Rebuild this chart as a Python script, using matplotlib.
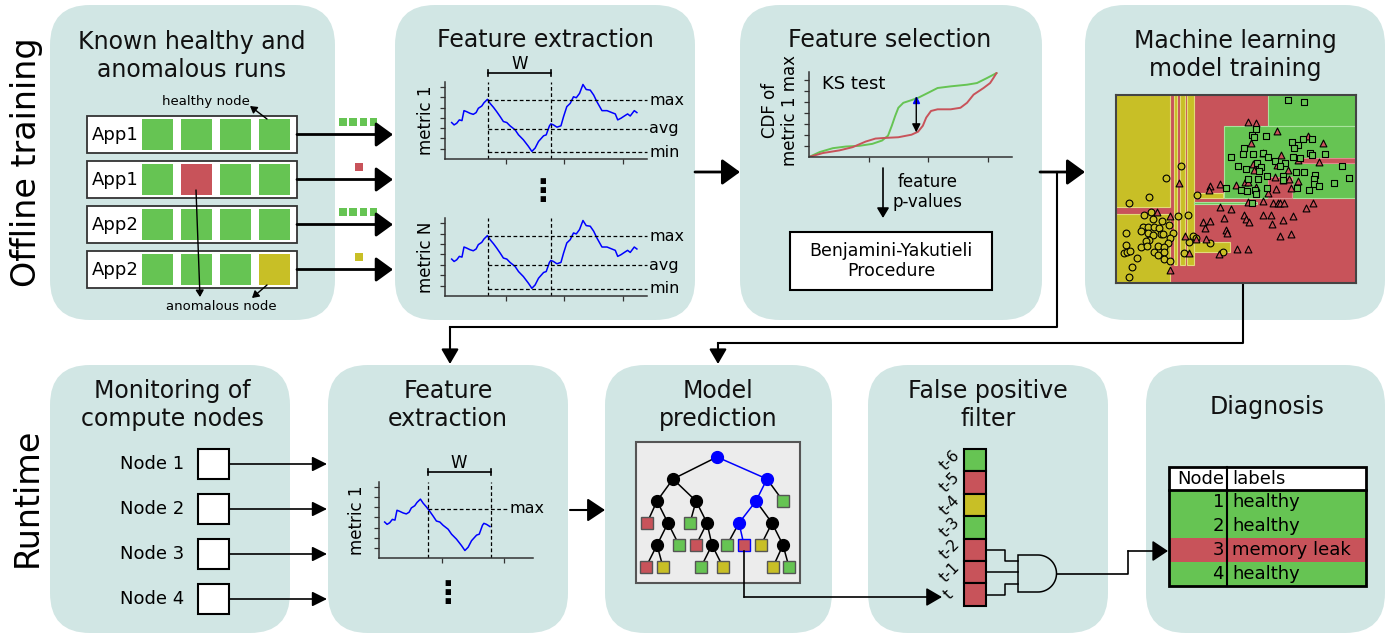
import numpy as np
import matplotlib.pyplot as plt
from matplotlib.patches import FancyBboxPatch, Rectangle, Polygon

W, H = 1389, 637

GREEN = '#66c453'
RED = '#c8535a'
YELLOW = '#c8bf26'
PANEL = '#d1e6e4'
COLORS = {'g': GREEN, 'r': RED, 'y': YELLOW}

# --- data ---
app_names = ['App1', 'App1', 'App2', 'App2']
app_nodes = [['g', 'g', 'g', 'g'], ['g', 'r', 'g', 'g'], ['g', 'g', 'g', 'g'], ['g', 'g', 'g', 'y']]
app_summary = [['g', 'g', 'g', 'g'], ['r'], ['g', 'g', 'g', 'g'], ['y']]

# metric time series (time step, value)
metric_t = [3.3, 4.5, 5.8, 7.1, 8.4, 9.4, 10.7, 12.4, 14.0, 15.4, 16.5, 18.2, 19.3, 21.0,
            22.3, 24.0, 25.6, 27.3, 28.9, 30.6, 32.2, 34.7, 36.4, 38.8, 41.3, 43.0, 44.6,
            46.3, 48.8, 50.1, 51.7, 52.4, 53.7, 55.4, 57.4, 58.7, 60.3, 62.0, 63.6, 65.0,
            66.6, 68.3, 69.9, 71.9, 73.6, 75.2, 77.7, 80.2, 82.6, 84.3, 85.5, 87.1, 88.8,
            90.4, 91.7, 93.7, 95.0]
metric_v = [3.55, 3.32, 3.48, 3.81, 3.74, 4.71, 4.61, 4.45, 4.35, 4.52, 4.94, 5.16, 5.48, 5.81,
            5.42, 5.03, 4.61, 4.13, 3.65, 3.55, 3.23, 2.84, 2.35, 1.87, 1.23, 0.74, 1.06,
            1.71, 2.26, 2.35, 3.23, 3.42, 3.32, 3.10, 3.23, 4.13, 5.10, 5.42, 6.06, 5.97,
            6.39, 7.26, 6.77, 6.71, 6.23, 5.58, 4.71, 4.71, 4.52, 4.39, 3.81, 3.97, 4.19,
            4.39, 4.19, 4.71, 4.52]
window = (21.5, 52.6)
stats = {'max': 5.74, 'avg': 2.97, 'min': 0.68}
rt_window = (24.8, 56.0)
rt_max = 4.85

# CDF curves for the KS test
cdf_x_green = [0, 0.54, 1.2, 1.86, 2.52, 3.18, 3.67, 3.97, 4.16, 4.33, 4.49, 4.74, 5.15, 5.48,
               5.97, 6.46, 7.12, 7.94, 8.44, 8.93, 9.42]
cdf_y_green = [0, 0.45, 0.80, 0.95, 1.01, 1.19, 1.49, 1.93, 2.83, 3.72, 4.46, 4.91, 5.15, 5.36,
               5.8, 6.25, 6.4, 6.55, 6.7, 7.14, 7.6]
cdf_x_red = [0, 0.7, 1.53, 2.19, 2.85, 3.34, 3.83, 4.49, 5.15, 5.48, 5.72, 5.89, 6.13, 6.46,
             7.12, 7.61, 7.94, 8.27, 8.77, 9.1, 9.26, 9.42]
cdf_y_red = [0, 0.36, 0.6, 0.89, 1.4, 1.67, 1.73, 1.79, 2.02, 2.29, 2.83, 3.57, 4.17, 4.32,
             4.32, 4.46, 4.91, 5.65, 6.25, 6.7, 7.14, 7.6]
ks_x, ks_lo, ks_hi = 5.39, 2.23, 5.36

# classifier scatter (feature space units)
circ_x = [243, 198, 148, 88, 290, 153, 132, 158, 186, 208, 233, 265, 130, 145, 163, 176, 124, 78,
          144, 160, 183, 190, 218, 209, 148, 138, 203, 78, 122, 142, 173, 191, 268, 280, 287, 329,
          72, 82, 89, 110, 162, 175, 192, 191, 210, 252, 95, 88, 368]
circ_y = [228, 265, 320, 338, 316, 365, 375, 388, 393, 406, 378, 374, 410, 411, 411, 413, 422, 430,
          430, 436, 433, 433, 430, 443, 448, 452, 457, 464, 469, 468, 466, 470, 456, 438, 443, 458,
          487, 484, 481, 503, 486, 494, 486, 506, 512, 488, 530, 561, 485]
tri_x = [443, 467, 531, 453, 489, 624, 669, 543, 593, 657, 460, 530, 461, 563, 524, 548, 568, 436,
         445, 594, 236, 330, 328, 361, 408, 467, 529, 573, 505, 444, 490, 520, 533, 540, 551, 640,
         618, 361, 393, 371, 310, 330, 432, 438, 446, 489, 512, 550, 517, 580, 377, 382, 316, 256,
         318, 541, 573, 412, 443, 358, 267, 209, 172, 210, 287]
tri_y = [98, 101, 123, 158, 188, 138, 159, 196, 210, 217, 222, 226, 240, 240, 262, 270, 266, 275,
         275, 273, 279, 288, 299, 283, 284, 292, 298, 293, 310, 335, 333, 340, 340, 340, 340, 338,
         355, 352, 357, 384, 396, 394, 375, 386, 397, 375, 375, 390, 403, 379, 420, 428, 414, 438,
         447, 438, 433, 476, 476, 490, 488, 538, 366, 378, 447]
sq_x = [564, 611, 468, 455, 499, 463, 608, 637, 576, 594, 432, 582, 429, 460, 490, 505, 394, 629,
        676, 637, 580, 554, 470, 483, 413, 437, 477, 524, 541, 587, 613, 645, 500, 548, 474, 443,
        726, 747, 642, 641, 656, 701, 378, 500, 423, 442, 466, 468, 591, 628, 548, 600, 456]
sq_y = [32, 38, 118, 137, 138, 143, 147, 147, 157, 165, 174, 175, 192, 192, 188, 200, 202, 190,
        192, 195, 200, 220, 218, 230, 228, 238, 243, 214, 229, 247, 246, 256, 258, 258, 266, 266,
        228, 263, 266, 283, 287, 279, 293, 293, 301, 302, 300, 311, 293, 300, 269, 205, 338]
# decision regions: (x0, x1, y0, y1, class)
regions = [(48, 210, 16, 350, 'y'), (48, 210, 372, 578, 'y'), (222, 232, 16, 525, 'y'),
           (240, 255, 16, 525, 'y'), (262, 283, 16, 525, 'y'), (283, 370, 308, 325, 'y'),
           (283, 390, 455, 485, 'y'), (505, 768, 16, 110, 'g'), (372, 768, 110, 325, 'g'),
           (283, 470, 335, 342, 'g'), (505, 575, 262, 325, 'r'), (598, 768, 205, 218, 'r')]

node_names = ['Node 1', 'Node 2', 'Node 3', 'Node 4']

# decision tree: (x, depth-y, kind, parent)
tree = [(717, 457, 'b', None), (673, 479, 'n', 0), (767, 479, 'b', 0), (657, 501, 'n', 1),
        (696, 501, 'n', 1), (756, 501, 'b', 2), (783, 501, 'g', 2), (647, 523, 'r', 3),
        (668, 523, 'n', 3), (690, 523, 'g', 4), (707, 523, 'n', 4), (739, 523, 'b', 5),
        (772, 523, 'n', 5), (657, 545, 'n', 8), (679, 545, 'g', 8), (696, 545, 'r', 10),
        (712, 545, 'n', 10), (727, 545, 'g', 11), (744, 545, 'R', 11), (761, 545, 'y', 12),
        (783, 545, 'n', 12), (646, 567, 'r', 13), (663, 567, 'y', 13), (701, 567, 'g', 16),
        (723, 567, 'y', 16), (773, 567, 'y', 20), (789, 567, 'g', 20)]

filter_labels = ['t-6', 't-5', 't-4', 't-3', 't-2', 't-1', 't']
filter_states = ['g', 'r', 'y', 'g', 'r', 'r', 'r']

diag_nodes = [1, 2, 3, 4]
diag_labels = ['healthy', 'healthy', 'memory leak', 'healthy']
diag_states = ['g', 'g', 'r', 'g']

# --- figure ---
fig = plt.figure(figsize=(W / 100, H / 100), dpi=100)
ax = fig.add_axes([0, 0, 1, 1])
ax.set_xlim(0, W)
ax.set_ylim(H, 0)
ax.axis('off')


def px_axes(x0, y0, x1, y1):
    a = fig.add_axes([x0 / W, 1 - y1 / H, (x1 - x0) / W, (y1 - y0) / H])
    a.patch.set_alpha(0)
    return a


def arrow(pts, lw=1.5, hl=0.5, hw=0.3, ms=20, color='black', z=5):
    if len(pts) > 2:
        xs, ys = zip(*pts[:-1])
        ax.plot(xs, ys, color=color, lw=lw, zorder=z)
    ax.annotate('', xy=pts[-1], xytext=pts[-2], zorder=z,
                arrowprops=dict(arrowstyle=f'-|>,head_length={hl},head_width={hw}',
                                color=color, lw=lw, mutation_scale=ms, shrinkA=0, shrinkB=0))


def mini_axes(a, xlim, ylim, xticks, yticks):
    a.set_xlim(*xlim)
    a.set_ylim(*ylim)
    a.set_xticks(xticks)
    a.set_yticks(yticks)
    a.tick_params(length=3.5, width=0.9, color='#333333', labelbottom=False, labelleft=False)
    for s in ['top', 'right']:
        a.spines[s].set_visible(False)
    for s in ['left', 'bottom']:
        a.spines[s].set_color('#333333')
        a.spines[s].set_linewidth(1.1)


# panels
panels = [(50, 5, 335, 320), (395, 5, 695, 320), (740, 5, 1042, 320), (1085, 5, 1385, 320),
          (50, 365, 290, 633), (328, 365, 568, 633), (605, 365, 832, 633),
          (868, 365, 1108, 633), (1146, 365, 1385, 633)]
for x0, y0, x1, y1 in panels:
    ax.add_patch(FancyBboxPatch((x0, y0), x1 - x0, y1 - y0,
                                boxstyle='round,pad=0,rounding_size=40',
                                fc=PANEL, ec='none', zorder=0))

titles = [(192, 56, 'Known healthy and\nanomalous runs'), (545, 40, 'Feature extraction'),
          (890, 40, 'Feature selection'), (1235, 55, 'Machine learning\nmodel training'),
          (172, 405, 'Monitoring of\ncompute nodes'), (448, 405, 'Feature\nextraction'),
          (718, 405, 'Model\nprediction'), (988, 405, 'False positive\nfilter'),
          (1267, 407, 'Diagnosis')]
for x, y, t in titles:
    ax.text(x, y, t, ha='center', va='center', fontsize=17, color='#111111')

ax.text(27, 162, 'Offline training', rotation=90, ha='center', va='center', fontsize=24)
ax.text(27, 497, 'Runtime', rotation=90, ha='center', va='center', fontsize=24)

# --- panel 1: known runs ---
for i, (name, nodes, summ) in enumerate(zip(app_names, app_nodes, app_summary)):
    top = 116 + i * 45
    ax.add_patch(Rectangle((87, top), 210, 37, fc='white', ec='#333333', lw=1.3, zorder=2))
    ax.text(92, top + 19, name, ha='left', va='center', fontsize=13, zorder=3)
    for j, c in enumerate(nodes):
        ax.add_patch(Rectangle((142 + j * 39, top + 3), 31, 31, fc=COLORS[c], ec='none', zorder=3))
    mid = top + 18.5
    arrow([(297, mid), (393, mid)], lw=2, hl=0.55, hw=0.4, ms=19)
    if len(summ) == 4:
        for j, c in enumerate(summ):
            ax.add_patch(Rectangle((339 + j * 10.3, mid - 16.5), 7.5, 7.5, fc=COLORS[c], ec='none'))
    else:
        ax.add_patch(Rectangle((355, mid - 16.5), 7.5, 7.5, fc=COLORS[summ[0]], ec='none'))

ax.text(206, 102, 'healthy node', ha='center', va='center', fontsize=9.5)
arrow([(267, 119), (250, 106)], lw=1, hl=0.5, hw=0.3, ms=8)
ax.text(221, 306, 'anomalous node', ha='center', va='center', fontsize=9.5)
arrow([(196, 190), (200, 297)], lw=1, hl=0.5, hw=0.3, ms=8)
arrow([(267, 285), (252, 298)], lw=1, hl=0.5, hw=0.3, ms=8)

# --- panel 2: feature extraction ---
for k, (y0, y1, lab) in enumerate([(82, 159, 'metric 1'), (218, 296, 'metric N')]):
    m = px_axes(445, y0, 647, y1)
    mini_axes(m, (0, 100), (0, 7.5), [30, 59, 88], range(1, 8))
    m.plot(metric_t, metric_v, color='blue', lw=1.1)
    for wx in window:
        m.plot([wx, wx], [0, 7.5], color='black', lw=0.9, ls=(0, (3, 2)))
    for name, val in stats.items():
        m.plot([window[0], 100], [val, val], color='black', lw=0.9, ls=(0, (3, 2)), clip_on=False)
        m.text(101, val, name, ha='left', va='center', fontsize=11.5)
    ax.text(426, (y0 + y1) / 2, lab, rotation=90, ha='center', va='center', fontsize=12)
ax.plot([488, 551], [72.5, 72.5], color='black', lw=1.2)
ax.plot([488, 488], [69.5, 75.5], color='black', lw=1.2)
ax.plot([551, 551], [69.5, 75.5], color='black', lw=1.2)
ax.text(520, 64, 'W', ha='center', va='center', fontsize=12)
ax.text(543, 192, '\u22ee', ha='center', va='center', fontsize=22, fontweight='bold')

arrow([(695, 172), (740, 172)], lw=2, hl=0.55, hw=0.4, ms=20)

# --- panel 3: feature selection ---
c = px_axes(809, 72, 1012, 157)
mini_axes(c, (0, 10.2), (0, 7.7), [3, 6, 9], range(1, 8))
c.plot(cdf_x_green, cdf_y_green, color=GREEN, lw=1.4)
c.plot(cdf_x_red, cdf_y_red, color=RED, lw=1.4)
c.annotate('', xy=(ks_x, ks_lo), xytext=(ks_x, ks_hi),
           arrowprops=dict(arrowstyle='-|>,head_length=0.5,head_width=0.25', color='black',
                           lw=1, mutation_scale=10, shrinkA=0, shrinkB=0))
c.plot(ks_x, ks_hi - 0.2, marker='^', color='blue', ms=5)
ax.text(822, 84, 'KS test', ha='left', va='center', fontsize=13)
ax.text(780, 110, 'CDF of\nmetric 1 max', rotation=90, ha='center', va='center', fontsize=12)
arrow([(883, 168), (883, 218)], lw=1.2, hl=0.5, hw=0.3, ms=12)
ax.text(928, 192, 'feature\np-values', ha='center', va='center', fontsize=12)
ax.add_patch(Rectangle((790, 232), 202, 58, fc='white', ec='black', lw=1.5, zorder=2))
ax.text(891, 261, 'Benjamini-Yakutieli\nProcedure', ha='center', va='center', fontsize=12.5, zorder=3)

arrow([(1040, 172), (1085, 172)], lw=2, hl=0.55, hw=0.4, ms=20)
arrow([(1057, 172), (1057, 327), (450, 327), (450, 364)], lw=1.5, hl=0.6, hw=0.35, ms=15)
arrow([(1243, 283), (1243, 343), (718, 343), (718, 364)], lw=1.5, hl=0.6, hw=0.35, ms=15)

# --- panel 4: model training ---
s = px_axes(1116, 95, 1356, 283)
s.patch.set_alpha(1)
s.set_facecolor(RED)
s.set_xlim(48, 768)
s.set_ylim(578, 16)
s.set_xticks([])
s.set_yticks([])
for sp in s.spines.values():
    sp.set_color('#444444')
    sp.set_linewidth(1.5)
edge = {'y': '#e2da7a', 'g': '#a9e39c', 'r': '#e08a8f'}
for x0, x1, y0, y1, k in regions:
    s.add_patch(Rectangle((x0, y0), x1 - x0, y1 - y0, fc=COLORS[k], ec=edge[k], lw=0.8))
s.scatter(circ_x, circ_y, s=24, marker='o', fc=YELLOW, ec='black', lw=0.8, zorder=3)
s.scatter(tri_x, tri_y, s=24, marker='^', fc=RED, ec='black', lw=0.8, zorder=3)
s.scatter(sq_x, sq_y, s=22, marker='s', fc=GREEN, ec='black', lw=0.8, zorder=3)

# --- panel 5: monitoring ---
for i, name in enumerate(node_names):
    yc = 464 + i * 45
    ax.text(184, yc, name, ha='right', va='center', fontsize=13)
    ax.add_patch(Rectangle((198, yc - 15), 31, 30, fc='white', ec='black', lw=1.5, zorder=2))
    arrow([(229, yc), (327, yc)], lw=1.2, hl=0.6, hw=0.3, ms=15)

# --- panel 6: runtime feature extraction ---
r = px_axes(379, 482, 533, 558)
mini_axes(r, (0.5, 76.7), (0, 7.5), [31.7, 62.4], range(1, 8))
rt = [(t, v) for t, v in zip(metric_t, metric_v) if t <= rt_window[1]]
r.plot([p[0] for p in rt], [p[1] for p in rt], color='blue', lw=1.1)
for wx in rt_window:
    r.plot([wx, wx], [0, 7.5], color='black', lw=0.9, ls=(0, (3, 2)))
r.plot([rt_window[0], 64], [rt_max, rt_max], color='black', lw=0.9, ls=(0, (3, 2)), clip_on=False)
r.text(65, rt_max, 'max', ha='left', va='center', fontsize=11.5)
ax.text(357, 520, 'metric 1', rotation=90, ha='center', va='center', fontsize=12)
ax.plot([428, 491], [471.5, 471.5], color='black', lw=1.2)
ax.plot([428, 428], [468.5, 474.5], color='black', lw=1.2)
ax.plot([491, 491], [468.5, 474.5], color='black', lw=1.2)
ax.text(459, 463, 'W', ha='center', va='center', fontsize=12)
ax.text(448, 594, '\u22ee', ha='center', va='center', fontsize=22, fontweight='bold')

arrow([(570, 510), (605, 510)], lw=1.5, hl=0.6, hw=0.4, ms=18)

# --- panel 7: model prediction ---
ax.add_patch(Rectangle((636, 442), 164, 141, fc='#ececec', ec='#555555', lw=1.5, zorder=1))
path_nodes = {0, 2, 5, 11, 18}
for i, (x, y, k, p) in enumerate(tree):
    if p is not None:
        px, py, _, _ = tree[p]
        col = 'blue' if (i in path_nodes and p in path_nodes) else 'black'
        ax.plot([px, x], [py, y], color=col, lw=1.1, zorder=2)
for i, (x, y, k, p) in enumerate(tree):
    if k in ('n', 'b'):
        ax.plot(x, y, 'o', ms=8.5, color='black' if k == 'n' else 'blue', zorder=3)
    else:
        fc = RED if k == 'R' else COLORS[k]
        ec = 'blue' if k == 'R' else '#555555'
        ax.plot(x, y, 's', ms=8.5, mfc=fc, mec=ec, mew=1, zorder=3)
lx, ly = tree[18][0], tree[18][1]
arrow([(lx, ly + 6), (lx, 597), (942, 597)], lw=1.2, hl=0.6, hw=0.35, ms=16)

# --- panel 8: false positive filter ---
cell_h = 22.4
for i, (lab, st) in enumerate(zip(filter_labels, filter_states)):
    top = 449 + i * cell_h
    ax.add_patch(Rectangle((964, top), 22, cell_h, fc=COLORS[st], ec='black', lw=1.5, zorder=2))
    ax.text(950 if lab != 't' else 949, top + cell_h / 2, lab, rotation=45,
            ha='center', va='center', fontsize=11)
yc = [449 + (i + 0.5) * cell_h for i in (4, 5, 6)]
ax.plot([986, 1005, 1005, 1018], [yc[0], yc[0], 561, 561], color='black', lw=1.1)
ax.plot([986, 1018], [yc[1], yc[1]], color='black', lw=1.1)
ax.plot([986, 1005, 1005, 1018], [yc[2], yc[2], 584, 584], color='black', lw=1.1)
ang = np.linspace(-np.pi / 2, np.pi / 2, 40)
gate = [(1018, 592), (1018, 555), (1038, 555)] + \
       [(1038 + 18.5 * np.cos(a), 573.5 + 18.5 * np.sin(a)) for a in ang] + [(1018, 592)]
ax.add_patch(Polygon(gate, closed=True, fc='none', ec='black', lw=1.1, zorder=3))
arrow([(1056.5, 573.5), (1128, 573.5), (1128, 551), (1168, 551)], lw=1.2, hl=0.6, hw=0.4, ms=16)

# --- panel 9: diagnosis ---
x0, xs, x1 = 1169, 1227, 1366
ax.add_patch(Rectangle((x0, 467), x1 - x0, 23, fc='white', ec='none', zorder=2))
ax.text(xs - 3, 479, 'Node', ha='right', va='center', fontsize=13, zorder=4)
ax.text(xs + 5, 479, 'labels', ha='left', va='center', fontsize=13, zorder=4)
for i, (n, lab, st) in enumerate(zip(diag_nodes, diag_labels, diag_states)):
    top = 490 + i * 24
    ax.add_patch(Rectangle((x0, top), x1 - x0, 24, fc=COLORS[st], ec='none', zorder=2))
    ax.text(xs - 3, top + 12, str(n), ha='right', va='center', fontsize=13, zorder=4)
    ax.text(xs + 5, top + 12, lab, ha='left', va='center', fontsize=13, zorder=4)
ax.add_patch(Rectangle((x0, 467), x1 - x0, 119, fc='none', ec='black', lw=2, zorder=5))
ax.plot([x0, x1], [490, 490], color='black', lw=2, zorder=5)
ax.plot([xs, xs], [467, 586], color='black', lw=1.5, zorder=5)

fig.savefig('out.png', dpi=100)
